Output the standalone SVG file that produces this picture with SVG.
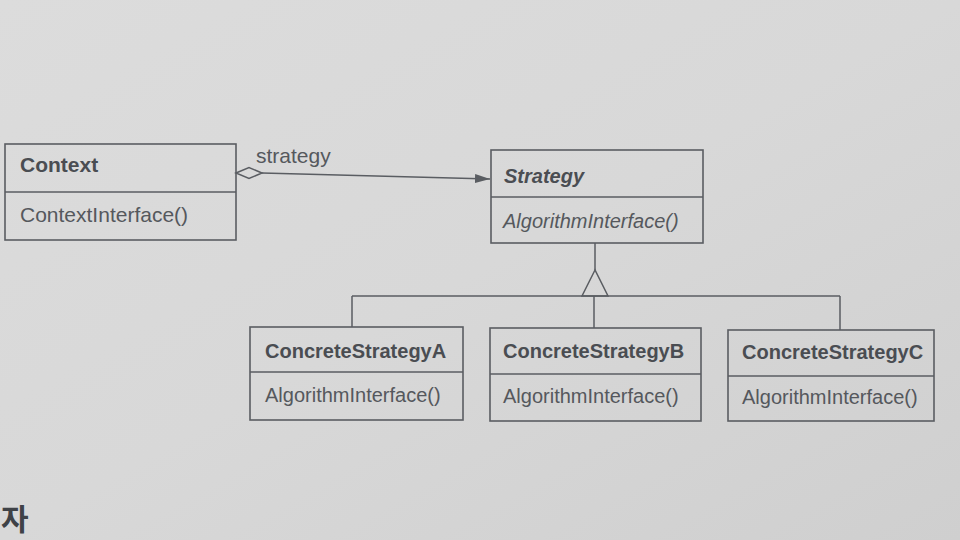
<svg xmlns="http://www.w3.org/2000/svg" width="960" height="540" viewBox="0 0 960 540">
<style>
.box{fill:none;stroke:#5a5d62;stroke-width:1.6}
.ln{fill:none;stroke:#5a5d62;stroke-width:1.5}
.t{font-family:"Liberation Sans",Arial,sans-serif;font-size:20px;fill:#55585d}
.c{font-size:21px}
.b{font-weight:bold;fill:#4a4d52}
.i{font-style:italic}
</style>
<defs>
<linearGradient id="bg" x1="0" y1="0" x2="1" y2="1">
<stop offset="0" stop-color="#dcdcdc"/>
<stop offset="0.5" stop-color="#d8d8d8"/>
<stop offset="1" stop-color="#cfcfcf"/>
</linearGradient>
<marker id="arr" markerWidth="16" markerHeight="12" refX="15" refY="6" orient="auto" markerUnits="userSpaceOnUse">
<path d="M0,1.5 L15,6 L0,10.5 Z" fill="#5a5d62"/>
</marker>
</defs>
<rect width="960" height="540" fill="url(#bg)"/>
<g id="connectors">
<path class="ln" d="M236,173 L249,167.5 L262,173 L249,178.5 Z"/>
<path class="ln" d="M262,173 L490,179" marker-end="url(#arr)"/>
<text class="t c" x="256" y="163">strategy</text>
<path class="ln" d="M595,243 L595,270"/>
<path class="ln" d="M595,270 L582,296 L608,296 Z"/>
<path class="ln" d="M352,296 L840,296"/>
<path class="ln" d="M352,296 L352,327"/>
<path class="ln" d="M594,296 L594,328"/>
<path class="ln" d="M840,296 L840,330"/>
</g>
<g id="context">
<rect class="box" x="5" y="144" width="231" height="96"/>
<line class="box" x1="5" y1="192" x2="236" y2="192"/>
<text class="t c b" x="20" y="172">Context</text>
<text class="t c" x="20" y="222">ContextInterface()</text>
</g>
<g id="strategy">
<rect class="box" x="491" y="150" width="212" height="93"/>
<line class="box" x1="491" y1="197" x2="703" y2="197"/>
<text class="t b i" x="504" y="183">Strategy</text>
<text class="t i" x="503" y="228">AlgorithmInterface()</text>
</g>
<g id="concreteA">
<rect class="box" x="250" y="327" width="213" height="93"/>
<line class="box" x1="250" y1="372" x2="463" y2="372"/>
<text class="t b" x="265" y="358">ConcreteStrategyA</text>
<text class="t" x="265" y="402">AlgorithmInterface()</text>
</g>
<g id="concreteB">
<rect class="box" x="490" y="328" width="211" height="93"/>
<line class="box" x1="490" y1="374" x2="701" y2="374"/>
<text class="t b" x="503" y="358">ConcreteStrategyB</text>
<text class="t" x="503" y="403">AlgorithmInterface()</text>
</g>
<g id="concreteC">
<rect class="box" x="728" y="330" width="206" height="91"/>
<line class="box" x1="728" y1="376" x2="934" y2="376"/>
<text class="t b" x="742" y="359">ConcreteStrategyC</text>
<text class="t" x="742" y="404">AlgorithmInterface()</text>
</g>
<text x="1" y="530" style="font-family:'Noto Sans CJK KR',sans-serif;font-size:30px;font-weight:bold;fill:#3f4247">자</text>
</svg>
